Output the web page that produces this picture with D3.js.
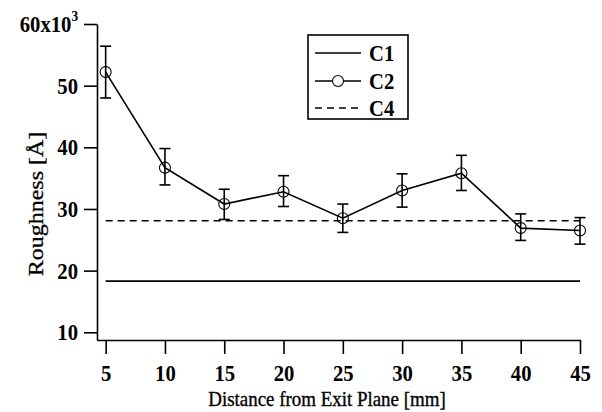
<!DOCTYPE html>
<html>
<head>
<meta charset="utf-8">
<script src="https://cdn.jsdelivr.net/npm/d3@7"></script>
<style>
  html, body { margin: 0; padding: 0; background: #fff; }
  svg { display: block; }
</style>
</head>
<body>
<svg id="chart" width="602" height="412"></svg>
<script>
// ---- data ----
const distances = [5, 10, 15, 20, 25, 30, 35, 40, 45];
const c2Values  = [52.2, 36.7, 30.8, 32.8, 28.5, 33.0, 35.8, 26.9, 26.5];
const c2Upper   = [56.4, 39.8, 33.2, 35.4, 30.8, 35.7, 38.7, 29.2, 28.6];
const c2Lower   = [48.0, 33.9, 28.3, 30.4, 26.2, 30.3, 33.0, 24.9, 24.3];
const c1Values  = [18.3, 18.3, 18.3, 18.3, 18.3, 18.3, 18.3, 18.3, 18.3];
const c4Values  = [28.1, 28.1, 28.1, 28.1, 28.1, 28.1, 28.1, 28.1, 28.1];
const xTicks = [5, 10, 15, 20, 25, 30, 35, 40, 45];
const yTicks = [10, 20, 30, 40, 50, 60];
const legendLabels = ["C1", "C2", "C4"];
const xTitle = "Distance from Exit Plane [mm]";
const yTitle = "Roughness [Å]";

// ---- layout ----
const FONT = '"Liberation Serif", serif';
const SX = 0.88; // horizontal squeeze of the reference's text
const svg = d3.select("#chart");
const x = d3.scaleLinear().domain([4.27, 45]).range([97, 580]);
const y = d3.scaleLinear().domain([8.75, 60]).range([340, 24]);
const lw = 1.6;

// axes
const xAxis = d3.axisBottom(x).tickValues(xTicks).tickSize(14).tickSizeOuter(0).tickPadding(10);
const gx = svg.append("g").attr("transform", "translate(0,340)").call(xAxis);
gx.select(".domain").attr("stroke", "#000").attr("stroke-width", lw);
gx.selectAll(".tick line").attr("stroke", "#000").attr("stroke-width", lw);
gx.selectAll(".tick text").attr("font-size", 23.5).attr("font-weight", "bold")
  .style("font-family", FONT).attr("fill", "#000")
  .attr("transform", `scale(${SX},1)`);

const yAxis = d3.axisLeft(y).tickValues(yTicks).tickSize(13).tickSizeOuter(0).tickPadding(6);
const gy = svg.append("g").attr("transform", "translate(97,0)").call(yAxis);
gy.select(".domain").attr("stroke", "#000").attr("stroke-width", lw);
gy.selectAll(".tick line").attr("stroke", "#000").attr("stroke-width", lw);
gy.selectAll(".tick text").attr("font-size", 23.5).attr("font-weight", "bold")
  .style("font-family", FONT).attr("fill", "#000")
  .attr("x", -19 / SX).attr("transform", `scale(${SX},1)`);
gy.selectAll(".tick text").filter(d => d === 60).each(function() {
  const t = d3.select(this);
  t.text("60x10");
  t.append("tspan").attr("font-size", 15).attr("dy", "-0.75em").text("3");
});

// axis titles
svg.append("text").attr("transform", `translate(327,406) scale(${SX},1)`).attr("text-anchor", "middle")
  .attr("font-size", 21.5).style("font-family", FONT).attr("fill", "#000")
  .attr("stroke", "#000").attr("stroke-width", 0.35).text(xTitle);
svg.append("text").attr("transform", `translate(43,204) rotate(-90) scale(1,${SX})`).attr("text-anchor", "middle")
  .attr("font-size", 24).style("font-family", FONT).attr("fill", "#000")
  .attr("stroke", "#000").attr("stroke-width", 0.35).text(yTitle);

// C1 solid line
const line = d3.line().x((d, i) => x(distances[i])).y(d => y(d));
svg.append("path").datum(c1Values).attr("d", line).attr("fill", "none")
  .attr("stroke", "#000").attr("stroke-width", lw);
// C4 dashed line
svg.append("path").datum(c4Values).attr("d", line).attr("fill", "none")
  .attr("stroke", "#000").attr("stroke-width", lw).attr("stroke-dasharray", "7,5");
// C2 line
svg.append("path").datum(c2Values).attr("d", line).attr("fill", "none")
  .attr("stroke", "#000").attr("stroke-width", lw);

// error bars
const cap = 5.5;
const eb = svg.append("g").attr("stroke", "#000").attr("stroke-width", lw);
distances.forEach((dv, i) => {
  const cx = x(dv);
  eb.append("line").attr("x1", cx).attr("x2", cx).attr("y1", y(c2Upper[i])).attr("y2", y(c2Lower[i]));
  eb.append("line").attr("x1", cx - cap).attr("x2", cx + cap).attr("y1", y(c2Upper[i])).attr("y2", y(c2Upper[i]));
  eb.append("line").attr("x1", cx - cap).attr("x2", cx + cap).attr("y1", y(c2Lower[i])).attr("y2", y(c2Lower[i]));
});
// markers
svg.append("g").selectAll("circle").data(c2Values).join("circle")
  .attr("cx", (d, i) => x(distances[i])).attr("cy", d => y(d)).attr("r", 5.5)
  .attr("fill", "none").attr("stroke", "#000").attr("stroke-width", 1.1);

// legend
const lg = svg.append("g");
lg.append("rect").attr("x", 308).attr("y", 35).attr("width", 100).attr("height", 84)
  .attr("fill", "#fff").attr("stroke", "#000").attr("stroke-width", lw);
const rowsY = [53, 81, 108];
legendLabels.forEach((lab, i) => {
  const ly = rowsY[i];
  const ln = lg.append("line").attr("x1", 315).attr("x2", 361).attr("y1", ly).attr("y2", ly)
    .attr("stroke", "#000").attr("stroke-width", lw);
  if (lab === "C4") ln.attr("stroke-dasharray", "7,5");
  if (lab === "C2") lg.append("circle").attr("cx", 338).attr("cy", ly).attr("r", 5.5)
    .attr("fill", "#fff").attr("stroke", "#000").attr("stroke-width", 1.1);
  lg.append("text").attr("transform", `translate(369,${ly + 8}) scale(${SX},1)`)
    .attr("font-size", 23.5).attr("font-weight", "bold").style("font-family", FONT)
    .attr("fill", "#000").text(lab);
});
</script>
</body>
</html>
